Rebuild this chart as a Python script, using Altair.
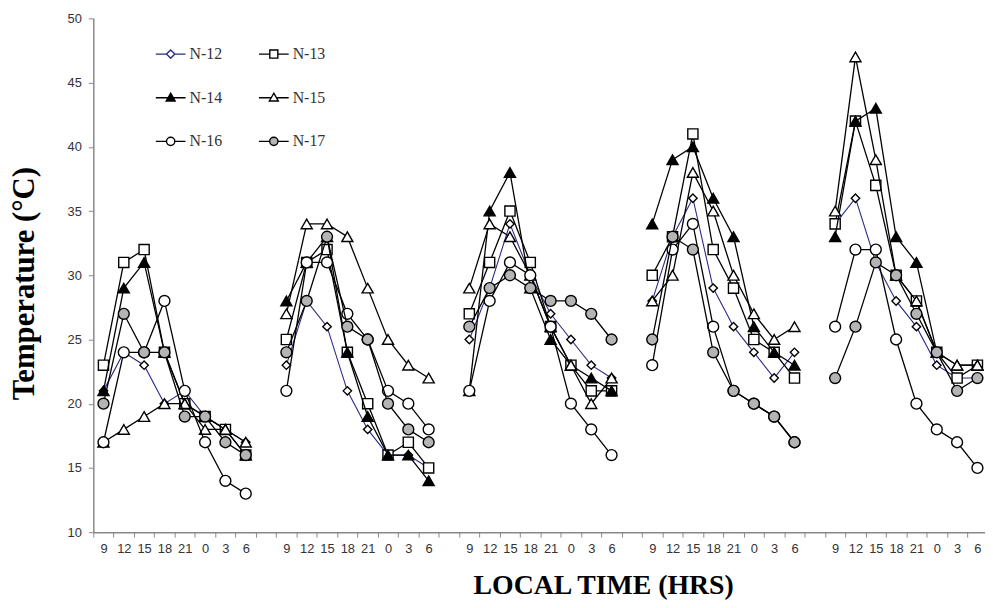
import altair as alt
import pandas as pd

hours = [9, 12, 15, 18, 21, 0, 3, 6]
series = ["N-12", "N-13", "N-14", "N-15", "N-16", "N-17"]

n12 = [[21, 24, 23, 20, 21, 19, 18, 17],
       [23, 28, 26, 21, 18, 16, 16, 15],
       [25, 29, 34, 30, 27, 25, 23, 22],
       [28, 33, 36, 29, 26, 24, 22, 24],
       [34, 36, 31, 28, 26, 23, 22, 22]]
n13 = [[23, 31, 32, 24, 20, 19, 18, 16],
       [25, 31, 32, 24, 20, 16, 17, 15],
       [27, 31, 35, 31, 26, 23, 21, 21],
       [30, 33, 41, 32, 29, 25, 24, 22],
       [34, 42, 37, 30, 28, 24, 22, 23]]
n14 = [[21, 29, 31, 24, 20, 19, 18, 16],
       [28, 31, 33, 24, 19, 16, 16, 14],
       [21, 35, 38, 29, 25, 23, 22, 21],
       [34, 39, 40, 36, 33, 26, 24, 23],
       [33, 42, 43, 33, 31, 24, 23, 23]]
n15 = [[17, 18, 19, 20, 20, 18, 18, 17],
       [27, 34, 34, 33, 29, 25, 23, 22],
       [29, 34, 33, 30, 26, 23, 20, 22],
       [28, 30, 38, 35, 30, 27, 25, 26],
       [35, 47, 39, 30, 28, 24, 23, 23]]
n16 = [[17, 24, 24, 28, 21, 17, 14, 13],
       [21, 31, 31, 27, 25, 21, 20, 18],
       [21, 28, 31, 30, 26, 20, 18, 16],
       [23, 32, 34, 26, 21, 20, 19, 17],
       [26, 32, 32, 25, 20, 18, 17, 15]]
n17 = [[20, 27, 24, 24, 19, 19, 17, 16],
       [24, 28, 33, 26, 25, 20, 18, 17],
       [26, 29, 30, 29, 28, 28, 27, 25],
       [25, 33, 32, 24, 21, 20, 19, 17],
       [22, 26, 31, 30, 27, 24, 21, 22]]

all_values = [n12, n13, n14, n15, n16, n17]

# styles
line_colors = ["#2a2a85", "black", "black", "black", "black", "black"]
shapes = ["diamond", "square", "triangle-up", "triangle-up", "circle", "circle"]
fills = ["white", "white", "black", "white", "white", "#b4b4b4"]
sizes = [72, 105, 125, 125, 121, 121]
legend_paths = [
    "M-1,0L-0.28,0M-0.28,0L0,-0.28L0.28,0L0,0.28ZM0.28,0L1,0",
    "M-1,0L-0.27,0M-0.27,-0.27L0.27,-0.27L0.27,0.27L-0.27,0.27ZM0.27,0L1,0",
    "M-1,0L-0.17,0M0,-0.3L-0.3,0.22L0.3,0.22ZM0.17,0L1,0",
    "M-1,0L-0.17,0M0,-0.3L-0.3,0.22L0.3,0.22ZM0.17,0L1,0",
    "M-1,0L-0.28,0M-0.28,0A0.28,0.28 0 1,0 0.28,0A0.28,0.28 0 1,0 -0.28,0ZM0.28,0L1,0",
    "M-1,0L-0.28,0M-0.28,0A0.28,0.28 0 1,0 0.28,0A0.28,0.28 0 1,0 -0.28,0ZM0.28,0L1,0",
]

n_slots = 5 * 9 - 1
rows = []
for name, groups in zip(series, all_values):
    for g, vals in enumerate(groups):
        for j, v in enumerate(vals):
            rows.append({"series": name, "group": g, "pos": g * 9 + j,
                         "hour": hours[j], "temp": v})
df = pd.DataFrame(rows)

label_list = [str(h) for h in hours] + [""]
label_expr = "[" + ",".join("'" + s + "'" for s in label_list) + "][datum.value % 9]"

x_enc = alt.X(
    "pos:O",
    scale=alt.Scale(type="band", domain=list(range(n_slots)), range=[0, 901.6],
                    paddingInner=0, paddingOuter=0),
    axis=alt.Axis(
        title="LOCAL TIME (HRS)", labelExpr=label_expr, labelAngle=0,
        tickBand="extent", tickSize=5, tickColor="#888", domainColor="#888",
        domainWidth=1.5, labelFont="Liberation Sans", labelFontSize=13,
        labelColor="#333", labelPadding=6,
        titleFont="Liberation Serif", titleFontSize=28, titleFontWeight="bold",
        titleColor="black", titleX=514, titleY=62, titleAlign="center",
        titleBaseline="alphabetic",
    ),
)
y_enc = alt.Y(
    "temp:Q",
    scale=alt.Scale(domain=[10, 50], nice=False, zero=False),
    axis=alt.Axis(
        values=list(range(10, 51, 5)), title="Temperature (°C)", grid=False,
        tickSize=5, tickColor="#888", domainColor="#888", domainWidth=1.5,
        labelFont="Liberation Sans", labelFontSize=13, labelColor="#333",
        labelPadding=7,
        titleFont="Liberation Serif", titleFontSize=31, titleFontWeight="bold",
        titleColor="black", titleX=-60, titleY=267, titleAngle=-90,
        titleAlign="center", titleBaseline="alphabetic",
    ),
)

base = alt.Chart(df)
layers = []
for i, name in enumerate(series):
    sub = base.transform_filter(alt.datum.series == name)
    layers.append(
        sub.mark_line(color=line_colors[i], strokeWidth=1.3 if i else 1.1)
        .encode(x=x_enc, y=y_enc, detail="group:N")
    )
    layers.append(
        sub.mark_point(shape=shapes[i], filled=True, fill=fills[i], stroke="black",
                       strokeWidth=1.4, size=sizes[i], opacity=1)
        .encode(x=x_enc, y=y_enc)
    )

legend_layer = base.transform_filter("false").mark_point(
    filled=True, opacity=1
).encode(
    shape=alt.Shape(
        "series:N",
        scale=alt.Scale(domain=series, range=legend_paths),
        legend=alt.Legend(
            title=None, orient="none", legendX=62, legendY=20, columns=2,
            direction="horizontal",
            columnPadding=34, rowPadding=20, symbolSize=900, symbolStrokeWidth=1.4,
            labelFont="Liberation Serif", labelFontSize=16, labelColor="#333",
            labelOffset=3, padding=0,
        ),
    ),
    fill=alt.Fill("series:N", scale=alt.Scale(domain=series, range=fills)),
    stroke=alt.Stroke("series:N", scale=alt.Scale(domain=series, range=line_colors)),
)

chart = alt.layer(*layers, legend_layer).properties(
    width=899, height=518,
    autosize=alt.AutoSizeParams(type="none"),
    padding={"left": 86, "top": 8, "right": 0, "bottom": 74},
    background="white",
).configure_view(strokeWidth=0)

chart.save("out.html", embed_options={"renderer": "svg", "actions": False})
